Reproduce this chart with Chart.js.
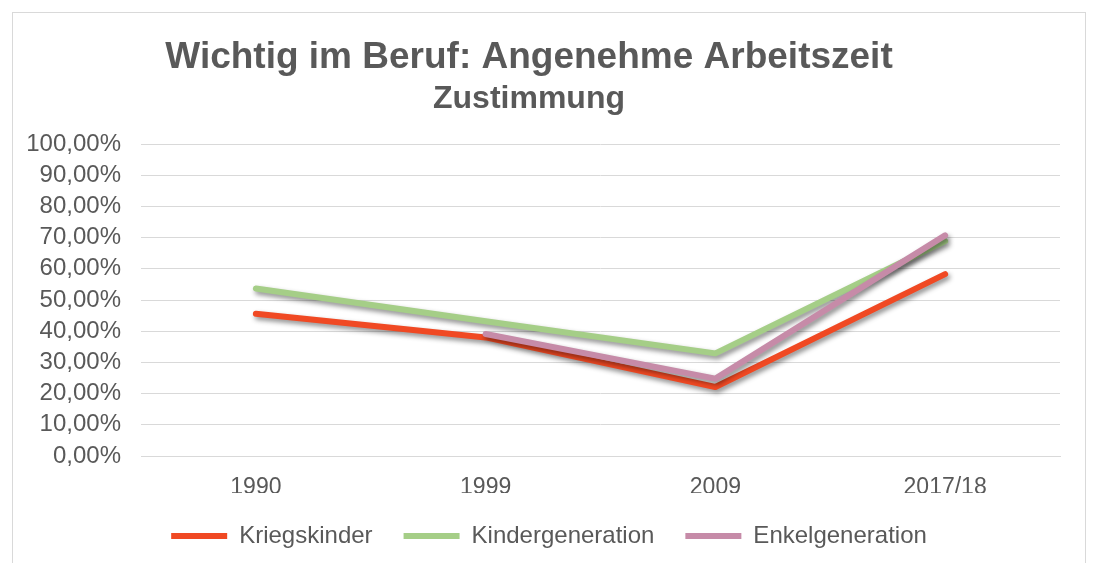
<!DOCTYPE html>
<html>
<head>
<meta charset="utf-8">
<script src="https://cdn.jsdelivr.net/npm/chart.js@4"></script>
<style>
body{margin:0;background:#fff;}
.box{position:absolute;left:12px;top:12px;width:1072px;height:560px;border:1px solid #d9d9d9;background:#fff;}
canvas{display:block;}
</style>
</head>
<body>
<div class="box"><canvas id="myChart" width="1072" height="551"></canvas></div>
<script>
const years=["1990","1999","2009","2017/18"];
const kriegskinder=[45.6,38.0,22.1,58.3];
const kindergeneration=[53.7,43.2,32.9,68.9];
const enkelgeneration=[null,39.1,24.8,70.7];
const seriesNames=["Kriegskinder","Kindergeneration","Enkelgeneration"];
const seriesColors=["#F04923","#A5CE87","#C68BA8"];

const textColor="#595959";
const fontName="'Liberation Sans', Arial, sans-serif";

// title + subtitle drawn by hand, the title is not centred on the canvas
const titlePlugin={
    id:"titles",
    afterDraw(chart){
        const ctx=chart.ctx;
        ctx.save();
        ctx.fillStyle=textColor;
        ctx.textAlign="center";
        ctx.textBaseline="alphabetic";
        ctx.font="bold 37px "+fontName;
        ctx.fillText("Wichtig im Beruf: Angenehme Arbeitszeit",516,55);
        ctx.font="bold 32px "+fontName;
        ctx.fillText("Zustimmung",516,95);
        ctx.restore();
    }
};

const shadowPlugin={
    id:"lineShadow",
    beforeDatasetDraw(chart){
        const ctx=chart.ctx;
        ctx.save();
        ctx.shadowColor="rgba(0,0,0,0.45)";
        ctx.shadowBlur=5;
        ctx.shadowOffsetX=2;
        ctx.shadowOffsetY=3;
    },
    afterDatasetDraw(chart){
        chart.ctx.restore();
    }
};

const makeDataset=(i,values)=>({
    label:seriesNames[i],
    data:values,
    borderColor:seriesColors[i],
    backgroundColor:seriesColors[i],
    borderWidth:6,
    borderCapStyle:"round",
    borderJoinStyle:"round",
    pointRadius:0,
    pointHoverRadius:0,
    tension:0,
    order:3-i
});

const ctx=document.getElementById("myChart").getContext("2d");
const myChart=new Chart(ctx,{
    type:"line",
    data:{
        labels:years,
        datasets:[
            makeDataset(0,kriegskinder),
            makeDataset(1,kindergeneration),
            makeDataset(2,enkelgeneration)
        ]
    },
    options:{
        responsive:false,
        animation:false,
        events:[],
        layout:{padding:{top:131,right:0,left:0,bottom:6}},
        scales:{
            x:{
                offset:true,
                grid:{display:false,drawTicks:false},
                border:{color:"#d9d9d9",width:1},
                ticks:{color:textColor,font:{family:fontName,size:23},padding:18},
                afterFit(scale){scale.height=37;}
            },
            y:{
                min:0,
                max:100,
                ticks:{
                    stepSize:10,
                    autoSkip:false,
                    color:textColor,
                    font:{family:fontName,size:24},
                    padding:20,
                    callback:(v)=>v.toFixed(2).replace(".",",")+"%"
                },
                grid:{color:"#d9d9d9",lineWidth:1,drawTicks:false},
                border:{display:false},
                afterFit(scale){scale.width=128;}
            },
            // empty axis, only keeps the right margin so the legend stays centred on the box
            yRight:{
                position:"right",
                grid:{display:false},
                ticks:{display:false},
                border:{display:false},
                afterFit(scale){scale.width=25;}
            }
        },
        plugins:{
            title:{display:false},
            tooltip:{enabled:false},
            legend:{
                position:"bottom",
                labels:{
                    color:textColor,
                    font:{family:fontName,size:24},
                    usePointStyle:true,
                    pointStyle:"line",
                    pointStyleWidth:56,
                    padding:31,
                    sort:(a,b)=>a.datasetIndex-b.datasetIndex
                }
            }
        }
    },
    plugins:[titlePlugin,shadowPlugin]
});
</script>
</body>
</html>
